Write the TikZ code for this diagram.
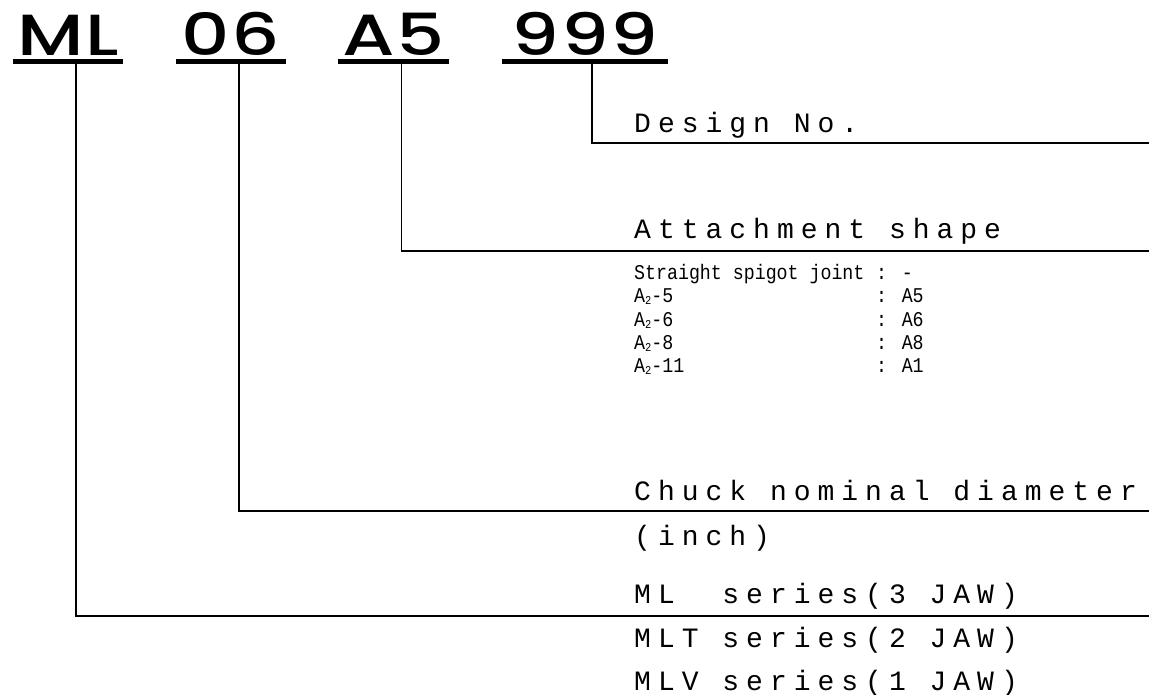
\documentclass[tikz,border=0pt]{standalone}
\usepackage{fontspec}
\usetikzlibrary{positioning}
\newfontfamily\cadfont{Liberation Mono}[LetterSpace=25]
\newfontfamily\cadsmall{Liberation Mono}[FakeStretch=0.87]
\newfontfamily\codefont{Poppins}[UprightFont={* Medium}, FakeStretch=1.3, LetterSpace=3]
\tikzset{
	code/.style = {font=\codefont\fontsize{58}{58}\selectfont, inner sep=0pt, anchor=base},
	codeline/.style = {line width=5pt},
	lead/.style = {line width=1.3pt},
	tag/.style = {font=\cadfont\fontsize{28}{28}\selectfont, inner sep=0pt, anchor=base west},
}
\newcommand{\Atwo}{A{\fontsize{12}{12}\selectfont\raisebox{-2pt}{2}}}
\begin{document}
\begin{tikzpicture}[x=1pt, y=-1pt]
	\useasboundingbox (0,0) rectangle (1149,694);
	% type code
	\node[code, minimum width=110pt] (codeML) at (68,55) {ML};
	\node[code, minimum width=110pt] (code06) at (231,55) {06};
	\node[code, minimum width=110pt] (codeA5) at (393.5,55) {A5};
	\node[code, minimum width=166pt] (code999) at (585,55) {999};
	\foreach \c in {codeML, code06, codeA5, code999}
		\draw[codeline] ([yshift=-6pt]\c.base west) -- ([yshift=-6pt]\c.base east);

	% meanings
	\node[tag] (design) at (634,132) {Design No.};
	\node[tag] (attach) at (634,238) {Attachment shape};
	\node[font=\cadsmall\fontsize{21}{23.3}\selectfont, inner sep=0pt, anchor=north west] (shapes) at (634,263) {%
		\begin{tabular}{@{}p{242pt}@{}l@{}}
			Straight spigot joint & : -\\
			\Atwo-5 & : A5\\
			\Atwo-6 & : A6\\
			\Atwo-8 & : A8\\
			\Atwo-11 & : A1
		\end{tabular}};
	\node[tag] (chuck) at (634,500) {Chuck nominal diameter};
	\node[tag] (inch) at (634,545) {(inch)};
	\node[tag] (mlser) at (634,603) {ML\ \ series(3 JAW)};
	\node[tag] (mltser) at (634,647) {MLT series(2 JAW)};
	\node[tag] (mlvser) at (634,690) {MLV series(1 JAW)};

	% leaders
	\coordinate (designend) at (1149,143);
	\coordinate (attachend) at (1149,251);
	\coordinate (chuckend) at (1149,511);
	\coordinate (mlend) at (1149,616);
	\draw[lead] ([xshift=7pt,yshift=-6pt]code999.base) |- (designend);
	\draw[lead] ([xshift=8pt,yshift=-6pt]codeA5.base) |- (attachend);
	\draw[lead] ([xshift=8pt,yshift=-6pt]code06.base) |- (chuckend);
	\draw[lead] ([xshift=8pt,yshift=-6pt]codeML.base) |- (mlend);
\end{tikzpicture}
\end{document}
